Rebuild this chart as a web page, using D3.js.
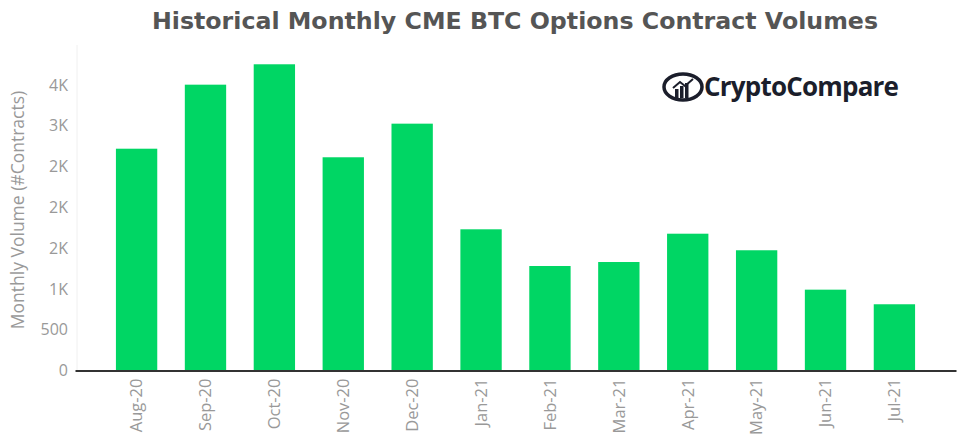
<!DOCTYPE html>
<html>
<head>
<meta charset="utf-8">
<script src="https://cdn.jsdelivr.net/npm/d3@7"></script>
<style>
  body { margin: 0; background: #fff; }
  text { font-family: "Open Sans", sans-serif; }
</style>
</head>
<body>
<div id="chart"></div>
<script>
const months = ["Aug-20", "Sep-20", "Oct-20", "Nov-20", "Dec-20", "Jan-21",
  "Feb-21", "Mar-21", "Apr-21", "May-21", "Jun-21", "Jul-21"];
const volumes = [2719, 3504, 3754, 2614, 3026, 1731, 1281, 1330, 1677, 1474, 991, 812];
const yTicks = [0, 500, 1000, 1500, 2000, 2500, 3000, 3500];
const yTickLabels = ["0", "500", "1K", "2K", "2K", "2K", "3K", "4K"];

const width = 961, height = 448;
const margin = { top: 50, right: 5, bottom: 78, left: 75 };

const svg = d3.select("#chart").append("svg")
  .attr("width", width)
  .attr("height", height);

const x = d3.scaleBand()
  .domain(months)
  .range([margin.left, width - margin.right])
  .paddingInner(0.4)
  .paddingOuter(0.594);

const y = d3.scaleLinear()
  .domain([0, 3500])
  .range([370.5, 85]);

// title
svg.append("text")
  .attr("x", 515)
  .attr("y", 29)
  .attr("text-anchor", "middle")
  .style("font-family", "DejaVu Sans")
  .style("font-weight", "bold")
  .style("font-size", "23.7px")
  .style("fill", "#555")
  .text("Historical Monthly CME BTC Options Contract Volumes");

// faint left line
svg.append("line")
  .attr("x1", margin.left + 2).attr("x2", margin.left + 2)
  .attr("y1", 45).attr("y2", y(0))
  .style("stroke", "#f0f0f0");

// bars
svg.selectAll(".bar")
  .data(volumes)
  .join("rect")
  .attr("class", "bar")
  .attr("x", (d, i) => x(months[i]))
  .attr("y", d => y(d))
  .attr("width", x.bandwidth())
  .attr("height", d => y(0) - y(d))
  .style("fill", "#00d664");

// y axis
const yAxis = svg.append("g")
  .attr("transform", `translate(${margin.left},0)`)
  .call(d3.axisLeft(y).tickValues(yTicks)
    .tickFormat((d, i) => yTickLabels[i]).tickSize(0).tickPadding(7));
yAxis.select(".domain").remove();
yAxis.selectAll("text")
  .style("font-family", "Open Sans")
  .style("font-size", "16px")
  .style("fill", "#999");

// x axis
const xAxis = svg.append("g")
  .attr("transform", `translate(0,${y(0)})`)
  .call(d3.axisBottom(x).tickSize(0));
xAxis.select(".domain").style("stroke", "#333").style("stroke-width", 2);
xAxis.selectAll("text")
  .attr("transform", "rotate(-90)")
  .attr("x", -8)
  .attr("y", 0)
  .attr("dy", "0.35em")
  .style("text-anchor", "end")
  .style("font-family", "Open Sans")
  .style("font-size", "16.5px")
  .style("fill", "#999");

// y label
svg.append("text")
  .attr("transform", `translate(24,${210}) rotate(-90)`)
  .attr("text-anchor", "middle")
  .style("font-family", "Open Sans")
  .style("font-size", "17.5px")
  .style("fill", "#999")
  .text("Monthly Volume (#Contracts)");

// CryptoCompare logo
const logo = svg.append("g").attr("transform", "translate(683,87)");
logo.append("ellipse")
  .attr("rx", 19).attr("ry", 13)
  .style("fill", "none")
  .style("stroke", "#1b1e2b")
  .style("stroke-width", 3.5);
[[-8, 3, 6], [-3, 0, 9], [2, -3, 12]].forEach(b => {
  logo.append("rect")
    .attr("x", b[0]).attr("y", b[1] - 1)
    .attr("width", 3.5).attr("height", b[2] - b[1] + 4 + (8 - b[2]))
    .style("fill", "#1b1e2b");
});
logo.append("path")
  .attr("d", "M-10,1 L-3,-5 L2,-1 L10,-8")
  .style("fill", "none")
  .style("stroke", "#1b1e2b")
  .style("stroke-width", 2);
svg.append("text")
  .attr("x", 704)
  .attr("y", 96)
  .style("font-family", "Open Sans")
  .style("font-weight", "bold")
  .style("font-size", "26px")
  .style("fill", "#1b1e2b")
  .style("letter-spacing", "-0.8px")
  .text("CryptoCompare");
</script>
</body>
</html>
